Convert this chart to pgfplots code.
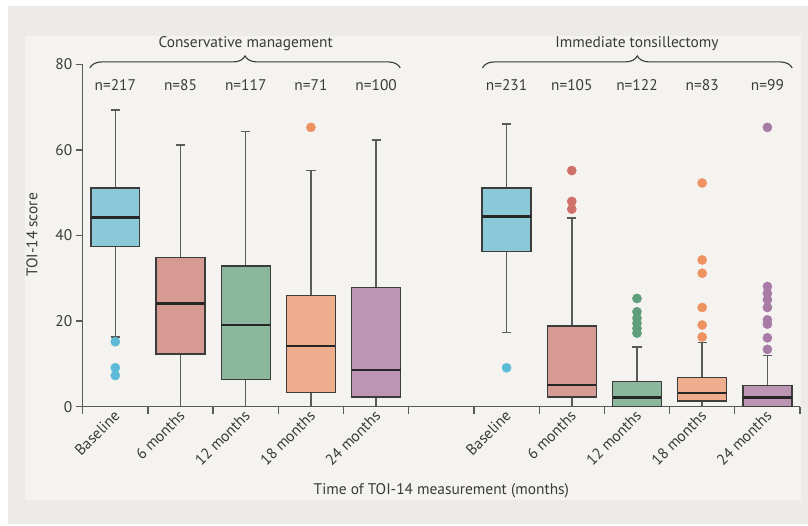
\documentclass[border=0pt]{standalone}
\usepackage{fontspec}
\setmainfont{PT Sans}
\usepackage{pgfplots}
\pgfplotsset{compat=1.18}
\usepgfplotslibrary{statistics}
\usetikzlibrary{decorations.pathreplacing}
\definecolor{outerbg}{HTML}{EDEBE7}
\definecolor{innerbg}{HTML}{F4F3EF}
\definecolor{txt}{HTML}{3A3A3A}
\definecolor{axgray}{HTML}{5A5A5A}
\definecolor{boxline}{HTML}{3C3C3C}
\definecolor{fblue}{HTML}{8CC9D8}
\definecolor{fred}{HTML}{D69A93}
\definecolor{fgreen}{HTML}{8BB79C}
\definecolor{forange}{HTML}{EEAD8C}
\definecolor{fpurple}{HTML}{BC95B4}
\definecolor{dblue}{HTML}{5BBAD5}
\definecolor{dred}{HTML}{D0706A}
\definecolor{dgreen}{HTML}{5E9E7A}
\definecolor{dorange}{HTML}{EE9262}
\definecolor{dpurple}{HTML}{A77BA6}
\newcommand{\lbl}{\fontsize{15.4}{17}\selectfont}
\begin{document}
\begin{tikzpicture}
\fill[white] (0pt,0pt) rectangle (808pt,525pt);
\fill[outerbg] (8pt,1pt) rectangle (808pt,519pt);
\fill[innerbg] (25pt,25pt) rectangle (801pt,489pt);
\begin{axis}[
  at={(82.7pt,118.3pt)}, anchor=south west,
  scale only axis, width=717.3pt, height=342.2pt,
  xmin=0.5, xmax=11.5, ymin=0, ymax=80,
  clip=false,
  axis lines=left,
  axis line style={-, draw=axgray, line width=1.3pt},
  tick align=outside,
  ytick={0,20,40,60,80},
  major tick length=7pt,
  minor tick length=7pt,
  ytick style={draw=axgray, line width=1.3pt},
  xtick={1,2,3,4,5,7,8,9,10,11},
  xticklabels={Baseline,6 months,12 months,18 months,24 months,Baseline,6 months,12 months,18 months,24 months},
  major x tick style={draw=none},
  minor xtick={0.5,1.5,...,11.5},
  minor x tick style={draw=axgray, line width=1.3pt},
  /pgf/number format/assume math mode=true,
  ticklabel style={font=\lbl, text=txt},
  xticklabel style={xshift=4pt, yshift=3pt, rotate=45, anchor=east},
  xlabel={Time of TOI-14 measurement (months)},
  ylabel={TOI-14 score},
  label style={font=\lbl, text=txt},
  xlabel style={at={(axis description cs:0.5,-0.246)}, anchor=center},
  ylabel style={at={(axis description cs:-0.0707,0.502)}, anchor=center},
  boxplot/draw direction=y,
  boxplot/box extend=0.75,
  boxplot/whisker extend=0.14,
  boxplot/every whisker/.style={draw=axgray, line width=1.5pt},
  boxplot/every box/.style={draw=boxline, line width=1.3pt},
  boxplot/every median/.style={draw=black!85, line width=2.6pt},
]
% Conservative management
\addplot[boxplot prepared={draw position=1, lower whisker=16.3, lower quartile=37.4, median=44.3, upper quartile=51.1, upper whisker=69.4}, color=dblue, fill=fblue, mark=*, mark size=4.6pt, mark options={draw=dblue, fill=dblue}] table[row sep=\\, y index=0]{15.2\\9.1\\7.3\\};
\addplot[boxplot prepared={draw position=2, lower whisker=0, lower quartile=12.3, median=24.1, upper quartile=34.9, upper whisker=61.2}, color=dred, fill=fred, mark=*, mark size=4.6pt, mark options={draw=dred, fill=dred}] coordinates {};
\addplot[boxplot prepared={draw position=3, lower whisker=0, lower quartile=6.3, median=19.1, upper quartile=32.9, upper whisker=64.3}, color=dgreen, fill=fgreen, mark=*, mark size=4.6pt, mark options={draw=dgreen, fill=dgreen}] coordinates {};
\addplot[boxplot prepared={draw position=4, lower whisker=0, lower quartile=3.4, median=14.2, upper quartile=26.0, upper whisker=55.2}, color=dorange, fill=forange, mark=*, mark size=4.6pt, mark options={draw=dorange, fill=dorange}] table[row sep=\\, y index=0]{65.3\\};
\addplot[boxplot prepared={draw position=5, lower whisker=0, lower quartile=2.3, median=8.6, upper quartile=27.9, upper whisker=62.3}, color=dpurple, fill=fpurple, mark=*, mark size=4.6pt, mark options={draw=dpurple, fill=dpurple}] coordinates {};
% Immediate tonsillectomy
\addplot[boxplot prepared={draw position=7, lower whisker=17.3, lower quartile=36.3, median=44.4, upper quartile=51.1, upper whisker=66.1}, color=dblue, fill=fblue, mark=*, mark size=4.6pt, mark options={draw=dblue, fill=dblue}] table[row sep=\\, y index=0]{9.1\\};
\addplot[boxplot prepared={draw position=8, lower whisker=0, lower quartile=2.3, median=5.1, upper quartile=18.9, upper whisker=44.1}, color=dred, fill=fred, mark=*, mark size=4.6pt, mark options={draw=dred, fill=dred}] table[row sep=\\, y index=0]{55.2\\48.0\\46.2\\};
\addplot[boxplot prepared={draw position=9, lower whisker=0, lower quartile=0, median=2.1, upper quartile=5.9, upper whisker=14.0}, color=dgreen, fill=fgreen, mark=*, mark size=4.6pt, mark options={draw=dgreen, fill=dgreen}] table[row sep=\\, y index=0]{25.3\\22.2\\20.7\\19.5\\18.3\\17.2\\};
\addplot[boxplot prepared={draw position=10, lower whisker=0, lower quartile=1.3, median=3.2, upper quartile=6.9, upper whisker=15.0}, color=dorange, fill=forange, mark=*, mark size=4.6pt, mark options={draw=dorange, fill=dorange}] table[row sep=\\, y index=0]{52.3\\34.3\\31.2\\23.2\\19.1\\16.3\\};
\addplot[boxplot prepared={draw position=11, lower whisker=0, lower quartile=0, median=2.1, upper quartile=4.9, upper whisker=12.0}, color=dpurple, fill=fpurple, mark=*, mark size=4.6pt, mark options={draw=dpurple, fill=dpurple}] table[row sep=\\, y index=0]{65.3\\28.1\\26.5\\25.0\\23.2\\20.3\\19.3\\16.1\\13.4\\};
% group annotations
\draw[decorate, decoration={brace, amplitude=12pt}, draw=txt, line width=1.1pt] (axis cs:0.61,79.2) -- (axis cs:5.37,79.2);
\draw[decorate, decoration={brace, amplitude=12pt}, draw=txt, line width=1.1pt] (axis cs:6.63,79.2) -- (axis cs:11.38,79.2);
\node[font=\lbl, text=txt] at (axis cs:3,84.85) {Conservative management};
\node[font=\lbl, text=txt] at (axis cs:9,84.85) {Immediate tonsillectomy};
\node[font=\lbl, text=txt] at (axis cs:1,75.2) {n=217};
\node[font=\lbl, text=txt] at (axis cs:2,75.2) {n=85};
\node[font=\lbl, text=txt] at (axis cs:3,75.2) {n=117};
\node[font=\lbl, text=txt] at (axis cs:4,75.2) {n=71};
\node[font=\lbl, text=txt] at (axis cs:5,75.2) {n=100};
\node[font=\lbl, text=txt] at (axis cs:7,75.2) {n=231};
\node[font=\lbl, text=txt] at (axis cs:8,75.2) {n=105};
\node[font=\lbl, text=txt] at (axis cs:9,75.2) {n=122};
\node[font=\lbl, text=txt] at (axis cs:10,75.2) {n=83};
\node[font=\lbl, text=txt] at (axis cs:11,75.2) {n=99};
\end{axis}
\end{tikzpicture}
\end{document}
